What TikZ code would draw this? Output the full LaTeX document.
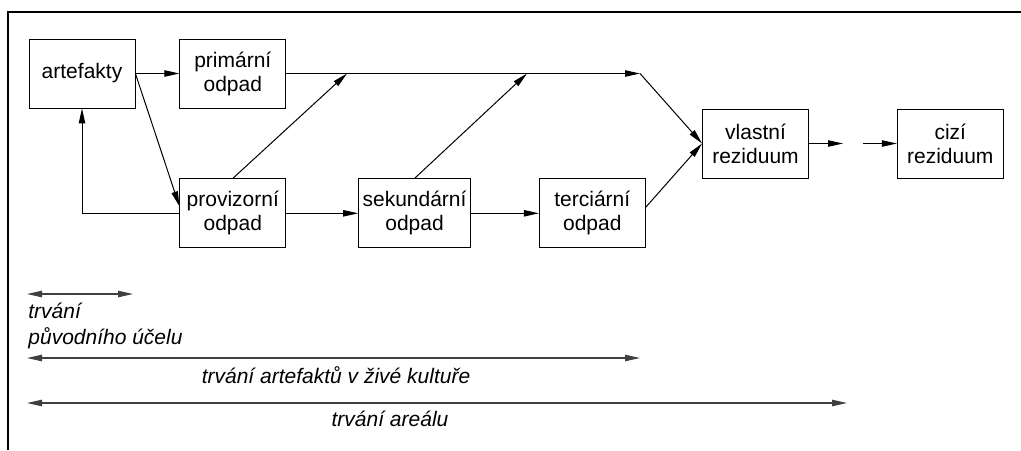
\documentclass[tikz,border=0pt]{standalone}
\usepackage{fontspec}
\setmainfont{Liberation Sans}
\usetikzlibrary{arrows.meta,positioning}
\tikzset{
 box/.style={draw,align=center,font=\fontsize{10.5}{12}\selectfont,minimum width=53pt,minimum height=34.5pt,inner sep=2pt},
 arr/.style={-{Triangle[length=7.5pt,width=3.2pt]},line width=0.5pt},
 span/.style={{Triangle[length=7.5pt,width=3.2pt]}-{Triangle[length=7.5pt,width=3.2pt]},line width=0.6pt,draw=black!75},
 note/.style={font=\fontsize{10.5}{13}\selectfont\itshape,inner sep=0pt,align=left}
}
\begin{document}
\begin{tikzpicture}[x=0.5pt,y=-0.5pt]
\useasboundingbox (0,0) rectangle (1021,450);
% frame
\draw[line width=0.75pt] (8,450) -- (8,12) -- (1021,12);
% flow of waste
\node[box] (art) at (82,73.5) {artefakty};
\node[box,right=22pt of art] (prim) {primární\\odpad};
\node[box,below=35pt of prim] (prov) {provizorní\\odpad};
\node[box,right=36pt of prov] (sek) {sekundární\\odpad};
\node[box,right=34pt of sek] (ter) {terciární\\odpad};
\node[box] (vl) at (755.5,143.5) {vlastní\\reziduum};
\node[box,right=44pt of vl] (cizi) {cizí\\reziduum};
\coordinate (j1) at (347,73.5);
\coordinate (j2) at (527,73.5);
\coordinate (j3) at (640,73.5);
\coordinate (g1) at (843,143.5);
\coordinate (g2) at (863,143.5);
\draw[arr] (art) -- (prim);
\draw[arr] (art.east) -- ([yshift=3.5pt]prov.west);
\draw[arr] (prov.west) -| (art.south);
\draw[arr] (prim) -- (j3);
\draw[arr] (j3) -- (vl.west);
\draw[arr] (prov.north) -- (j1);
\draw[arr] (sek.north) -- (j2);
\draw[arr] (prov) -- (sek);
\draw[arr] (sek) -- (ter);
\draw[arr] ([yshift=3pt]ter.east) -- (vl.west);
\draw[arr] (vl) -- (g1);
\draw[arr] (g2) -- (cizi);
% time spans
\coordinate (s1) at (27,294); \coordinate (e1) at (133,294);
\coordinate (s2) at (27,358); \coordinate (e2) at (640,358);
\coordinate (s3) at (27,403); \coordinate (e3) at (847,403);
\draw[span] (s1) -- (e1);
\draw[span] (s2) -- (e2);
\draw[span] (s3) -- (e3);
\node[note,anchor=north west] (t1) at (28,303) {trvání\\původního účelu};
\node[note] (t2) at (336,375) {trvání artefaktů v živé kultuře};
\node[note] (t3) at (390,419) {trvání areálu};
\end{tikzpicture}
\end{document}
